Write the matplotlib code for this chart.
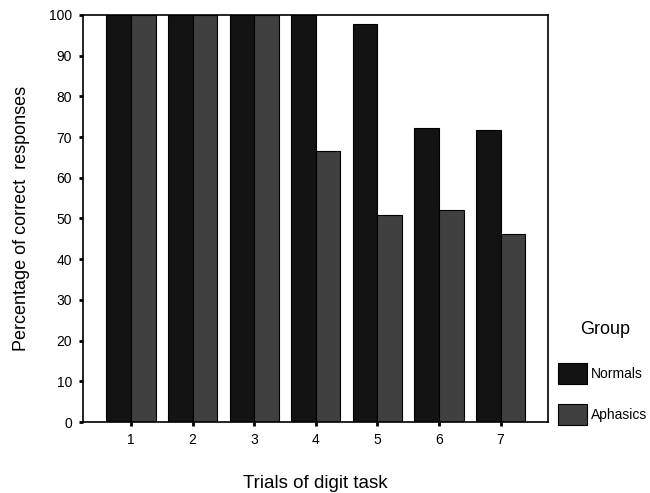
import numpy as np
import matplotlib
matplotlib.use("Agg")
import matplotlib.pyplot as plt
from matplotlib.patches import Patch

trials = [1, 2, 3, 4, 5, 6, 7]
normals = [100, 100, 100, 100, 97.8, 72.2, 71.7]
aphasics = [100, 100, 100, 66.7, 50.9, 52.0, 46.1]
yticks = [0, 10, 20, 30, 40, 50, 60, 70, 80, 90, 100]

plt.rcParams["font.family"] = ["Liberation Sans", "DejaVu Sans"]

fig = plt.figure(figsize=(6.5, 4.93), dpi=100)
ax = fig.add_axes([0.1277, 0.144, 0.7153, 0.8256])

x = np.array(trials)
w = 0.4
ax.bar(x - w / 2, normals, width=w, color="#131313", edgecolor="black", linewidth=0.8)
ax.bar(x + w / 2, aphasics, width=w, color="#404040", edgecolor="black", linewidth=0.8)

ax.set_xlim(0.22, 7.77)
ax.set_ylim(0, 100)
ax.set_xticks(trials)
ax.set_yticks(yticks)
ax.tick_params(direction="out", length=3, width=2, labelsize=10, pad=5)
for s in ax.spines.values():
    s.set_linewidth(1.2)

ax.set_xlabel("Trials of digit task", fontsize=13.5)
ax.xaxis.set_label_coords(0.5, -0.13)
ax.set_ylabel("Percentage of correct  responses", fontsize=13)
ax.yaxis.set_label_coords(-0.115, 0.5)

fig.text(605 / 650, 1 - 329 / 493, "Group", fontsize=13, ha="center", va="center")
handles = [Patch(facecolor="#131313", edgecolor="black", linewidth=0.8, label="Normals"),
           Patch(facecolor="#404040", edgecolor="black", linewidth=0.8, label="Aphasics")]
fig.legend(handles=handles, loc="upper left", bbox_to_anchor=(558 / 650, 1 - 363 / 493),
           frameon=False, fontsize=10, handlelength=2.1, handleheight=1.9,
           handletextpad=0.25, labelspacing=1.5, borderpad=0, borderaxespad=0)

fig.savefig("out.png", dpi=100)
